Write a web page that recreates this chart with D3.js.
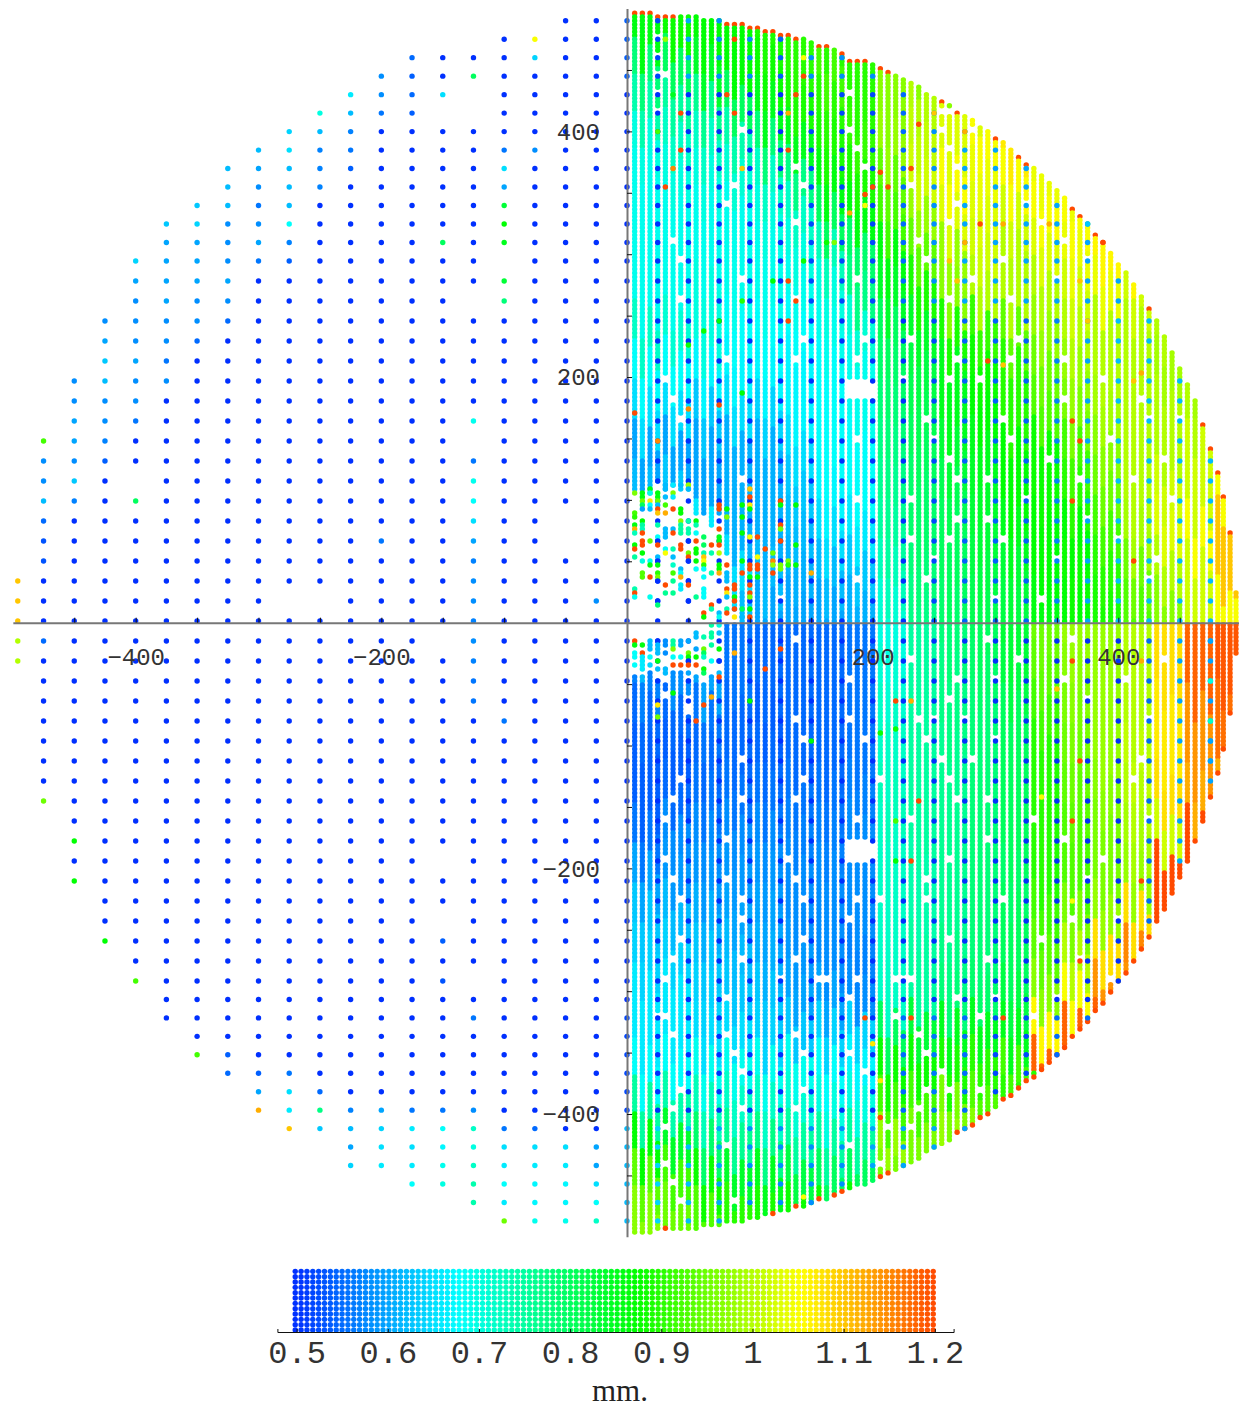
<!DOCTYPE html>
<html lang="en">
<head>
<meta charset="UTF-8">
<title>Thickness map</title>
<script src="https://d3js.org/d3.v7.min.js"></script>
<style>
    body { margin: 0; background: white; }
    svg { display: block; }
    .plot-axis text { font-family: "Liberation Mono", monospace; font-size: 24px; fill: #333; stroke: none; }
    .bar-axis text { font-family: "Liberation Mono", monospace; font-size: 32px; fill: #333; }
    .unit { font-family: "Liberation Serif", serif; font-size: 31px; fill: #222; text-anchor: middle; }
</style>
</head>
<body>
<svg width="1239" height="1407"></svg>
<script>
// colour key
const keyStops = [0.5, 0.677, 0.872, 1.054, 1.2];
const keyColors = ["#0030ff", "#00ffff", "#00ff00", "#ffff00", "#ff4a00"];
const keyTicks = [0.5, 0.6, 0.7, 0.8, 0.9, 1, 1.1, 1.2];
const plotTicks = [-400, -200, 200, 400];

// grid rows: row number -> y in mm (spacing changes at rows 13 and 49)
const rowNumbers = [0, 13, 31, 49, 62];
const rowValues = [490.1, 294.5, 1.4, -291.7, -487];
const edgeColumnsX = [481, 485.5, 491, 495.8];

// right half, thickness x100 read in blocks: 4 columns wide, 2 rows high
const field = [
 [86,88,87,87,89,90,90,90,97,97,97,97,97,97,97,97,97,97,97,97],
 [78,80,84,87,88,90,92,90,97,97,97,97,97,97,97,97,97,97,97,97],
 [74,75,76,80,85,89,90,90,97,100,103,103,103,103,103,103,103,103,103,103],
 [70,72,72,74,78,85,89,91,98,101,103,105,107,107,107,107,107,107,107,107],
 [69,70,70,71,72,77,86,89,94,102,105,104,105,104,104,104,104,104,104,104],
 [69,69,69,69,70,72,80,86,92,98,103,103,102,105,105,105,105,105,105,105],
 [69,69,69,69,69,70,73,79,86,94,98,102,100,103,104,106,106,106,106,106],
 [69,69,70,69,69,69,70,77,84,89,97,100,100,100,102,104,102,102,102,102],
 [72,71,70,68,68,68,69,71,80,84,89,91,94,98,100,100,100,100,100,100],
 [68,68,67,67,67,67,68,69,79,82,85,88,90,95,98,100,100,99,99,99],
 [65,65,63,65,64,67,68,69,78,81,85,87,90,93,96,99,100,100,100,100],
 [60,60,60,61,61,65,68,68,77,80,83,85,87,88,92,97,100,100,102,105],
 [62,63,60,61,61,63,67,68,76,79,81,84,87,88,90,95,100,102,102,105],
 [70,68,66,61,61,62,65,66,75,79,80,83,85,87,87,92,99,103,105,110],
 [70,70,68,65,62,61,62,63,73,78,80,82,83,87,88,90,95,100,102,110],
 [66,66,64,62,60,60,60,61,71,77,79,81,82,86,87,89,93,97,102,105],
 [62,62,64,56,55,55,55,56,70,75,78,80,83,95,98,98,100,108,118,119],
 [57,58,60,56,55,55,55,56,71,75,77,79,82,94,97,98,100,108,118,119],
 [55,55,56,55,54,55,55,56,72,75,77,78,80,92,96,98,100,107,114,117],
 [54,54,55,55,55,55,55,56,72,75,76,78,80,90,95,98,101,107,114,117],
 [54,55,56,56,56,56,56,57,73,75,76,78,80,90,94,97,100,108,112,112],
 [56,58,58,58,58,57,57,58,72,75,76,78,80,90,93,96,99,102,120,120],
 [60,59,59,59,59,58,58,58,72,74,76,78,79,90,93,96,98,120,120,120],
 [63,62,61,60,60,58,58,58,72,74,76,78,80,92,96,98,108,120,120,120],
 [64,64,63,62,61,59,58,57,72,75,77,78,80,94,100,108,115,115,115,115],
 [66,66,64,63,63,60,60,58,72,75,78,79,82,97,105,114,114,114,114,114],
 [66,66,65,65,64,63,64,64,80,83,85,85,85,106,118,118,118,118,118,118],
 [68,68,69,69,69,69,68,67,88,88,89,90,92,118,118,118,118,118,118,118],
 [75,74,73,72,72,71,70,70,92,92,96,93,90,90,90,90,90,90,90,90],
 [87,84,79,76,77,75,75,75,98,96,98,97,97,97,97,97,97,97,97,97],
 [94,92,88,84,85,82,80,80,96,96,96,96,96,96,96,96,96,96,96,96],
 [97,95,93,90,89,88,88,88,88,88,88,88,88,88,88,88,88,88,88,88]
];
// the readings change at a different height in each column
const columnShift = [0, 1, -1, 0.6, -0.6, 1.2, -0.4, 0.4];

// columns whose end dot is orange
const rimTopColumns = [1,2,3,4,5,6,13,14,15,16,17,18,19,20,21,22,25,26,28,29,30,31,33,34,41,43,48,51,52,58,59,61,62,68,75,76,77,78,79];
const rimBottomColumns = [5,19,22,25,27,28,33,34,43,44,45,46,47,49,50,51,52,53,54,55,56,57,58,59,60,61,62,63,65,66,67,68,69,70,71,72,73,74,75,76,77,78,79];

// white gaps in the columns: row -> columns
const gapRows = [1,2,3,4,5,6,7,8,9,10,11,12,13,14,15,17,18,19,20,21,22,23,24,25,26,27,28,29,30,32,33,34,35,36,37,38,39,40,41,42,43,44,45,46,47,48,49,50,51,52,53,54,55,56,57,58,59,60,61];
const gapColumns = [[4],[4,29],[4,5],[4,29],[4,42,41],[15,29,41,45],[30,42],[22,31,43],[14,23,37],[13,43,52],[22,42,54],[6,38,57],[7,39,49,60],[15,30,45,56],[7,42,22,50],
 [23,37,51,31],[13,22,30,43,50,57],[5,36,42,46,62],[6,57,67],[7,39,49,68,72],[30,40,50,63],[42,55,70],[15,43,47,59,66],[30,37,52,71],[43,47,60],[37,42,49,64],[40,56,69],[30,39,68],[20,48,54],
 [22,47,58],[37,51,70],[29,43,48,57,65],[42,60],[22,29,38,40,44,68],[23,31,39,48],[15,41,45,67],[7,23,33,42,66],[6,15,22,43,47],[5,30,37,53,68],[13,47,57],[5,21,42,62],[6,13,22,39,60],[7,15,23,30,33,39,49],[15,29,58,64],
 [7,23,42,54],[6,15,22,47,59],[5,20,25,26,30,35,36,37,63],[13,29,43,48,56],[4,5,35,46,53],[6,13,22,38],[14,23,29,39],[15,31,41],[7,23,39,42,46],[6,15,22,38],[5,34,37],[13,29],[5,33],[6],[14,7]];

// the two empty patches: first column, last column, from row, to row
const emptyPatches = [[29,32,18.9,19.9],[29,32,41.9,43.1],[8,8,34.8,35.6],[5,5,34.6,34.8]];
// the torn area near the centre: for columns 1.. the row where it starts above the axis / ends below it
const tornTop = [24.6,24.6,24.8,24.2,24.6,24.4,24.6,24.6,25.8,25.8,26.4,25.8,27.8,30.6];
const tornBottom = [33.6,33.6,33.4,33.8,34,33.4,33.4,33.8,33.6,34,33.6,33.8];

// single dots that stand out: column -> [row, thickness, row, thickness, ...]
const strayDots = [
 [1,[24.6,.96,25.6,.92,25.8,.9,26.2,.86,26.4,1.12,26.6,.73,27.2,.87,27.4,1.2,27.8,.75,29.4,.74,29.6,1.2,29.8,.69,32,1.2,32.2,.86,32.6,.68,32.8,.68,33.2,.68,20.6,1.2]],
 [2,[24.6,.86,24.8,.86,25,.95,25.2,.8,25.4,.6,26,.87,26.2,.75,26.4,.73,26.6,1.2,27,1.2,27.2,1.2,27.6,.87,28,.7,28.6,.93,28.8,.93,32.2,.86,32.6,1.2,32.8,.66,33,.66,33.2,.66,33.4,.66]],
 [3,[24.4,.86,24.6,.7,25,1.07,25.2,.68,25.4,.62,27,.94,28,.69,28.2,.86,28.8,1.2,29.8,.69,32,.62,32.2,.62,32.4,.62,32.8,.68,33.2,.64]],
 [4,[6,.92,22,1.15,24.6,.86,24.8,.86,25,.95,25.2,.62,25.4,1.2,25.6,1.1,26.2,.74,26.8,.68,27,.5,27.2,1.2,27.8,.62,28,.5,28.2,.86,28.6,.9,28.8,.96,29,.5,30,.5,30.2,.78,32,.5,32.2,.62,32.4,.62,32.6,.62,33,.86,33.4,.62,35.2,1.07,35.8,.95]],
 [5,[1,.98,9,1.2,24.2,.62,24.4,.62,24.8,.62,25.2,.92,25.6,1.12,26.4,.62,26.6,.62,26.8,.62,27.4,.68,27.6,1.05,29.2,1.2,29.6,.76,32,.58,32.2,.58,32.6,.58,33.4,.62,33.6,.62]],
 [6,[4,.85,8,1.15,24.2,.66,24.6,.96,24.8,.66,25.4,1.2,26.4,.62,26.6,1.2,27.4,.74,27.8,.62,28.2,.72,28.6,.92,29,.76,29.6,.76,32,.75,32.2,.75,32.4,.96,32.8,.68,33.2,1.2,34.6,.87]],
 [7,[5,1.2,7,1.2,24.2,.62,25.4,.87,25.6,.87,26,.97,26.2,.75,26.4,.75,26.6,.75,27.2,1.2,27.4,1.2,28.4,.62,28.6,.68,28.8,1.12,29.2,.66,29.4,.66,32,.6,32.2,.6,32.8,.68,33.2,1.2]],
 [8,[17.2,.88,20.4,1.15,24.2,.98,24.4,.62,26,.74,26.4,.74,26.6,.74,27,.5,27.6,.95,27.8,1.2,28,.5,29,.5,29.2,1.2,30,.5,32,.6,32.6,.95,32.8,.87,33,.5,33.2,1.2,33.6,.6]],
 [9,[26,.87,26.2,.74,26.6,.68,27,1.2,27.4,.87,27.6,.87,28,.87,28.4,.68,29.8,.76,31.6,.62,31.8,.62,32.4,.6,32.8,.87,33.2,1.2,36,1.2]],
 [10,[16.5,.88,26.8,.8,27.2,.8,27.6,.74,27.8,1.1,28,1.05,28.2,.9,28.4,.68,28.8,.68,29.4,.68,29.6,.68,29.8,.68,30.6,1.2,30.8,.87,31.8,.74,32.4,.95,32.6,.8,32.8,.72,33.4,.88,33.6,.8,35.2,1.2]],
 [11,[27.2,1.2,27.6,.74,28.6,.74,30.2,1.2,30.4,.74,31.2,.75,31.6,.75,31.8,.75,32.2,.75,33,.68,34.8,1.12]],
 [12,[16,.87,20.2,1.2,25.2,1.2,25.4,1.2,26.4,1.2,26.8,.85,27,.85,27.2,1.2,27.6,1,28.2,.87,28.4,.87,28.6,1.12,30.6,.62,30.8,.69,31.2,.7,31.6,.62,32.4,.87,33,.5,33.6,.62,33.8,1.2]],
 [13,[4,1.2,25.4,.87,25.8,.96,28.2,1.2,28.6,.62,28.8,.62,29,.62,29.4,1.2,29.6,1.07,29.8,.62,30.4,.74,30.6,1.2]],
 [14,[1,1.2,5,1.2,29.2,1.2,29.4,1.2,29.8,.87,30,1.2,30.4,1.2,30.8,1.07,32.6,1.12]],
 [15,[8,1.1,15,.9,19.6,.87,25.2,.87,25.8,.87,26.6,.87,28,.87,28.6,1.2,30.4,.8,30.8,.62]],
 [16,[24.4,1.1,24.8,1.2,25.2,1.07,25.4,.87,26.8,1.05,28.2,1.2,28.4,1.2,28.8,.87,29.2,1.2,29.6,1.2,29.8,.96,30.4,.87,30.8,1.2,35,.87]],
 [17,[26.8,1.2,27.8,1.05,28.2,1.2,28.4,1.2,28.8,.87]],
 [18,[27.4,1.2,33.4,1.2]],
 [19,[14,.87,27.6,.95,28,1.15,28.2,.98,28.6,1.2]],
 [20,[25,1.2,25.2,.87,26.2,1.2,26.4,.96,27,1.2,28.2,.96,28.4,.96,32.4,1.2]],
 [21,[5,1.12,7,1.2,14,1.2,16,1.2,28,.96,28.2,.9]],
 [22,[4,1.2,15,1.2,25.2,.87,27.2,.87,28.2,.87]],
 [23,[2,1.05,3,1.2,13,.88,60.7,1.05]],
 [24,[28.6,1.12,37,.87]],
 [26,[12,.88]],[27,[12,.96]],
 [29,[10.4,1.12]],
 [31,[9.4,1.2,10,1.05,51,1.2]],
 [32,[9,1.2,52.4,1.07]],
 [33,[8.2,1.2,36.6,.88,54.4,1.07,56.4,1.2]],
 [34,[9,1.2]],
 [35,[35,1.2,36.4,.88,41,.92,43,.87]],
 [37,[8,1.2,35,1.12,43,1.2,51,1.2]],
 [38,[5.6,1.2,40,1.2]],
 [40,[5,1.1]],[42,[13,1.1]],[43,[14,1.1]],
 [44,[6,1.12,12,1.12]],
 [46,[11,1.2]],
 [47,[18,1.2]],
 [49,[11,1.12,18.2,1.1,51,1.2]],
 [54,[39.8,1.05]],[55,[11,1.12]],[56,[34.4,1.1]],
 [58,[21,1.2,25,1.2,33,1.2,41,1.2,45,1.05]],
 [59,[14,1.1,22,1.2,38,1.2,48,1.2]],
 [60,[11,.63,16,1.1]],
 [62,[12,1.2]],
 [66,[19,1.1,28,1.2]],
 [67,[18.6,1.12,33,1.12,44,1.2]],
 [76,[32,.6,34,.7,36,.72,37,.6,38,.6]]
];

// sparse grid, every 25 mm. left half: blue unless listed
const sparseRows = d3.range(0, 63);
const sparseEdgeX = -496;
// furthest column to the left per row (20 = the edge column)
const sparseLeftReach = [2,4,7,8,9,10,11,12,13,13,14,15,15,16,16,16,17,17,17,18,18,18,19,19,19,19,19,19,19,20,20,20,20,20,19,19,19,19,19,19,19,18,18,18,18,17,17,17,16,16,15,15,14,14,13,12,12,11,9,9,7,5,4];
const sparseMissing = [[4,5],[5,6],[5,5],[13,4],[15,5],[22,5],[24,16],[26,2],[27,2],[30,11],[30,10],[32,6],[43,6],[46,6],[49,5]];
// row, then column and thickness pairs
const sparseValues = [
 [1,[3,1.05]],[2,[3,.64,7,.55]],[3,[5,.8,8,.58,7,.54]],[4,[9,.66,8,.58,7,.55,6,.65]],[5,[10,.7,9,.62,8,.56,7,.54]],
 [6,[11,.64,10,.62,9,.57]],[7,[12,.62,11,.65,10,.57,9,.56,4,.56,3,.58]],[8,[13,.62,12,.6,11,.62,10,.57,9,.54,4,.65]],
 [9,[13,.62,12,.58,11,.62,10,.57,4,.6]],[10,[14,.63,13,.62,12,.56,11,.62,4,.83]],[11,[15,.63,14,.64,13,.58,12,.58,11,.68,4,.87]],
 [12,[15,.6,14,.6,13,.58,12,.6,11,.57,6,.8,4,.85]],[13,[16,.64,15,.6,14,.6,13,.58,12,.56,11,.54]],[14,[16,.6,15,.6,14,.6,13,.6,4,.83]],
 [15,[16,.58,15,.6,14,.58,13,.58,4,.78]],[16,[17,.58,16,.58,15,.58,14,.58,13,.55]],[17,[17,.6,16,.58,15,.58,14,.55]],
 [18,[17,.63,16,.6,15,.56]],[19,[18,.58,17,.62,16,.58,15,.58]],[20,[18,.58,17,.58,16,.58]],[21,[18,.6,17,.58,16,.56,5,.69]],
 [22,[19,.92,18,.6,17,.57]],[23,[19,.58,18,.58,17,.54,5,.56]],[24,[19,.58,18,.63,5,.69]],[25,[19,.62,18,.57,16,.8,5,.68]],
 [26,[19,.55,5,.65]],[27,[19,.53,8,.56,5,.6]],[28,[19,.53,5,.57]],[29,[20,1.1,5,.58]],[30,[20,1.1,5,.58,1,.58]],[31,[20,1.1,5,.57]],
 [32,[20,1,19,.55,5,.58]],[33,[20,1,5,.57]],[34,[5,.56]],[35,[5,.56]],[36,[4,.56]],[40,[19,.95]],[42,[18,.87]],[44,[18,.87]],
 [47,[17,.87,6,.54]],[49,[16,.92,6,.53]],[51,[5,.56]],[53,[14,.92,13,.54]],[54,[13,.55,12,.54,11,.56]],[55,[12,.6,11,.65,10,.55]],
 [56,[12,1.12,11,.66,10,.77,9,.57,8,.6,7,.56,6,.56,5,.58]],[57,[11,1.1,10,.63,9,.62,8,.64,7,.66,6,.68,5,.72,4,.56,3,.55]],
 [58,[9,.6,8,.65,7,.65,6,.67,5,.7,4,.65,3,.65,2,.65,1,.6]],[59,[9,.64,8,.66,7,.66,6,.69,5,.72,4,.66,3,.66,2,.66,1,.6]],
 [60,[7,.68,6,.7,5,.74,4,.68,3,.67,2,.67,1,.65]],[61,[5,.74,4,.66,3,.67,2,.67,1,.68]],[62,[4,.95,3,.69,2,.69,1,.72]]
];
// right half of the sparse grid, by column 0..19, for row bands
const sparseBandEnd = [3, 15, 31, 50, 56, 62];
const sparseRight = [
 [54,52,60,58,58,54,58,58,58,58,58,58,58,58,58,58,58,58,58,58],
 [50,50,50,50,50,50,52,52,52,55,58,60,60,60,60,60,60,60,60,60],
 [50,50,50,50,50,50,50,50,50,50,52,54,54,54,57,60,62,62,62,62],
 [50,50,50,50,50,50,50,50,50,50,50,50,50,50,50,50,50,55,60,60],
 [52,50,50,50,50,50,50,50,50,55,56,55,52,52,55,55,55,55,55,55],
 [62,64,62,60,58,58,58,58,60,60,60,60,60,60,60,60,60,60,60,60]
];

const svg = d3.select("svg");
const R = 496.5;

const x = d3.scaleLinear().domain([-500, 500]).range([627 - 614.15, 627 + 614.15]);
const y = d3.scaleLinear().domain([500, -500]).range([622.7 - 614.15, 622.7 + 614.15]);
const rowToY = d3.scaleLinear().domain(rowNumbers).range(rowValues);
const color = d3.scaleLinear().domain(keyStops).range(keyColors).clamp(true);

// --- dense columns on the right
const gapSet = new Set();
gapRows.forEach((r, i) => gapColumns[i].forEach(c => { gapSet.add(c + "_" + (r * 5)); gapSet.add(c + "_" + (r * 5 - 1)); }));

function blockRow(t, c) {
    const shift = columnShift[c % columnShift.length];
    if (t <= 31) return Math.max(0, Math.min(15, Math.floor(Math.min(t + shift, 31) / 2)));
    return Math.min(31, Math.floor((Math.max(t + shift, 31.2) - 31.2 + 1e-6) / 2) + 16);
}

const columnsX = d3.range(1, 77).map(c => ({ c, mm: c * 6.25 }))
    .concat(edgeColumnsX.map((mm, i) => ({ c: 77 + i, mm })));

const dense = [];
columnsX.forEach(col => {
    const dots = [];
    d3.range(-2, 316).forEach(s => {
        const t = s / 5;
        const yy = rowToY(t);
        if (Math.hypot(col.mm, yy) > R) return;
        if (gapSet.has(col.c + "_" + s)) return;
        if (emptyPatches.some(p => col.c >= p[0] && col.c <= p[1] && t >= p[2] && t <= p[3])) return;
        if (col.c <= tornTop.length && t >= tornTop[col.c - 1] && t <= 31) return;
        if (col.c <= tornBottom.length && t > 31 && t <= tornBottom[col.c - 1]) return;
        const j = Math.min(19, Math.floor((col.c - 1) / 4));
        dots.push({ mm: col.mm, yy, v: field[blockRow(t, col.c)][j] / 100 });
    });
    if (dots.length) {
        if (rimTopColumns.includes(col.c)) dots[0].v = 1.2;
        if (rimBottomColumns.includes(col.c)) dots[dots.length - 1].v = 1.2;
    }
    dense.push(...dots);
});

const r = 2.7;
svg.append("g").selectAll("circle").data(dense).join("circle")
    .attr("cx", d => x(d.mm)).attr("cy", d => y(d.yy)).attr("r", r).attr("fill", d => color(d.v));

// --- sparse grid over the whole disc
const missing = new Set(sparseMissing.map(m => m.join("_")));
const sparseLookup = new Map();
sparseValues.forEach(([row, pairs]) => {
    for (let i = 0; i < pairs.length; i += 2) sparseLookup.set(row + "_" + pairs[i], pairs[i + 1]);
});
const sparse = [];
sparseRows.forEach(row => {
    const yy = rowToY(row);
    d3.range(1, sparseLeftReach[row] + 1).forEach(k => {
        if (missing.has(row + "_" + k)) return;
        sparse.push({ mm: k === 20 ? sparseEdgeX : -25 * k, yy, v: sparseLookup.get(row + "_" + k) || 0.5 });
    });
    const band = sparseBandEnd.findIndex(e => row <= e);
    d3.range(0, 20).forEach(k => {
        if (Math.hypot(25 * k, yy) > R) return;
        sparse.push({ mm: 25 * k, yy, v: sparseRight[band][k] / 100 });
    });
});
svg.append("g").selectAll("circle").data(sparse).join("circle")
    .attr("cx", d => x(d.mm)).attr("cy", d => y(d.yy)).attr("r", r).attr("fill", d => color(d.v));

// --- stray dots
const strays = strayDots.flatMap(([c, list]) => d3.range(0, list.length, 2).map(i => ({ mm: c * 6.25, yy: rowToY(list[i]), v: list[i + 1] })));
svg.append("g").selectAll("circle").data(strays).join("circle")
    .attr("cx", d => x(d.mm)).attr("cy", d => y(d.yy)).attr("r", r).attr("fill", d => color(d.v));

// --- axes through the middle
const minorTicks = d3.range(-450, 451, 50).filter(d => d !== 0);

const xAxis = svg.append("g").attr("class", "plot-axis").attr("transform", `translate(0,${y(0)})`)
    .call(d3.axisTop(x).tickValues(minorTicks).tickSize(5).tickSizeOuter(0).tickFormat(""));
const yAxis = svg.append("g").attr("class", "plot-axis").attr("transform", `translate(${x(0)},0)`)
    .call(d3.axisRight(y).tickValues(minorTicks).tickSize(5).tickSizeOuter(0).tickFormat(""));
[xAxis, yAxis].forEach(a => {
    a.selectAll("line").attr("stroke", "#111").attr("stroke-width", 1);
    a.select(".domain").attr("stroke", "#777").attr("stroke-width", 2);
});

const minus = d3.format("d");
const fmt = d => minus(d).replace("-", "\u2212");
svg.append("g").attr("class", "plot-axis").attr("transform", `translate(0,${y(0) + 25})`)
    .call(d3.axisBottom(x).tickValues(plotTicks).tickSize(0).tickPadding(0).tickFormat(fmt))
    .call(g => g.select(".domain").remove());
svg.append("g").attr("class", "plot-axis").attr("transform", `translate(${x(0) - 27},0)`)
    .call(d3.axisLeft(y).tickValues(plotTicks).tickSize(0).tickPadding(0).tickFormat(fmt))
    .call(g => g.select(".domain").remove());

// --- colour key
const barX = d3.scaleLinear().domain([0.5, 1.2]).range([296.6, 934.8]);
const barY = 1330;
const barColumns = d3.range(0, 110).map(i => 0.4985 + i * 0.00642);
const barRows = d3.range(0, 12);
const barDots = barColumns.flatMap(v => barRows.map(k => ({ v, k })));
svg.append("g").selectAll("circle").data(barDots).join("circle")
    .attr("cx", d => barX(d.v)).attr("cy", d => barY - d.k * 5.33).attr("r", 2.7).attr("fill", d => color(d.v));

const barAxisScale = d3.scaleLinear().domain([barX.invert(277.4), barX.invert(953.6)]).range([277.4, 953.6]);
const barAxis = svg.append("g").attr("class", "bar-axis").attr("transform", `translate(0,1332)`)
    .call(d3.axisBottom(barAxisScale).tickValues(keyTicks).tickSizeInner(-3).tickSizeOuter(-3).tickPadding(8).tickFormat(d3.format("~g")));
barAxis.selectAll("line").attr("stroke", "#111");
barAxis.select(".domain").attr("stroke", "#111");

svg.append("text").attr("class", "unit").attr("x", 620).attr("y", 1401).text("mm.");
</script>
</body>
</html>
